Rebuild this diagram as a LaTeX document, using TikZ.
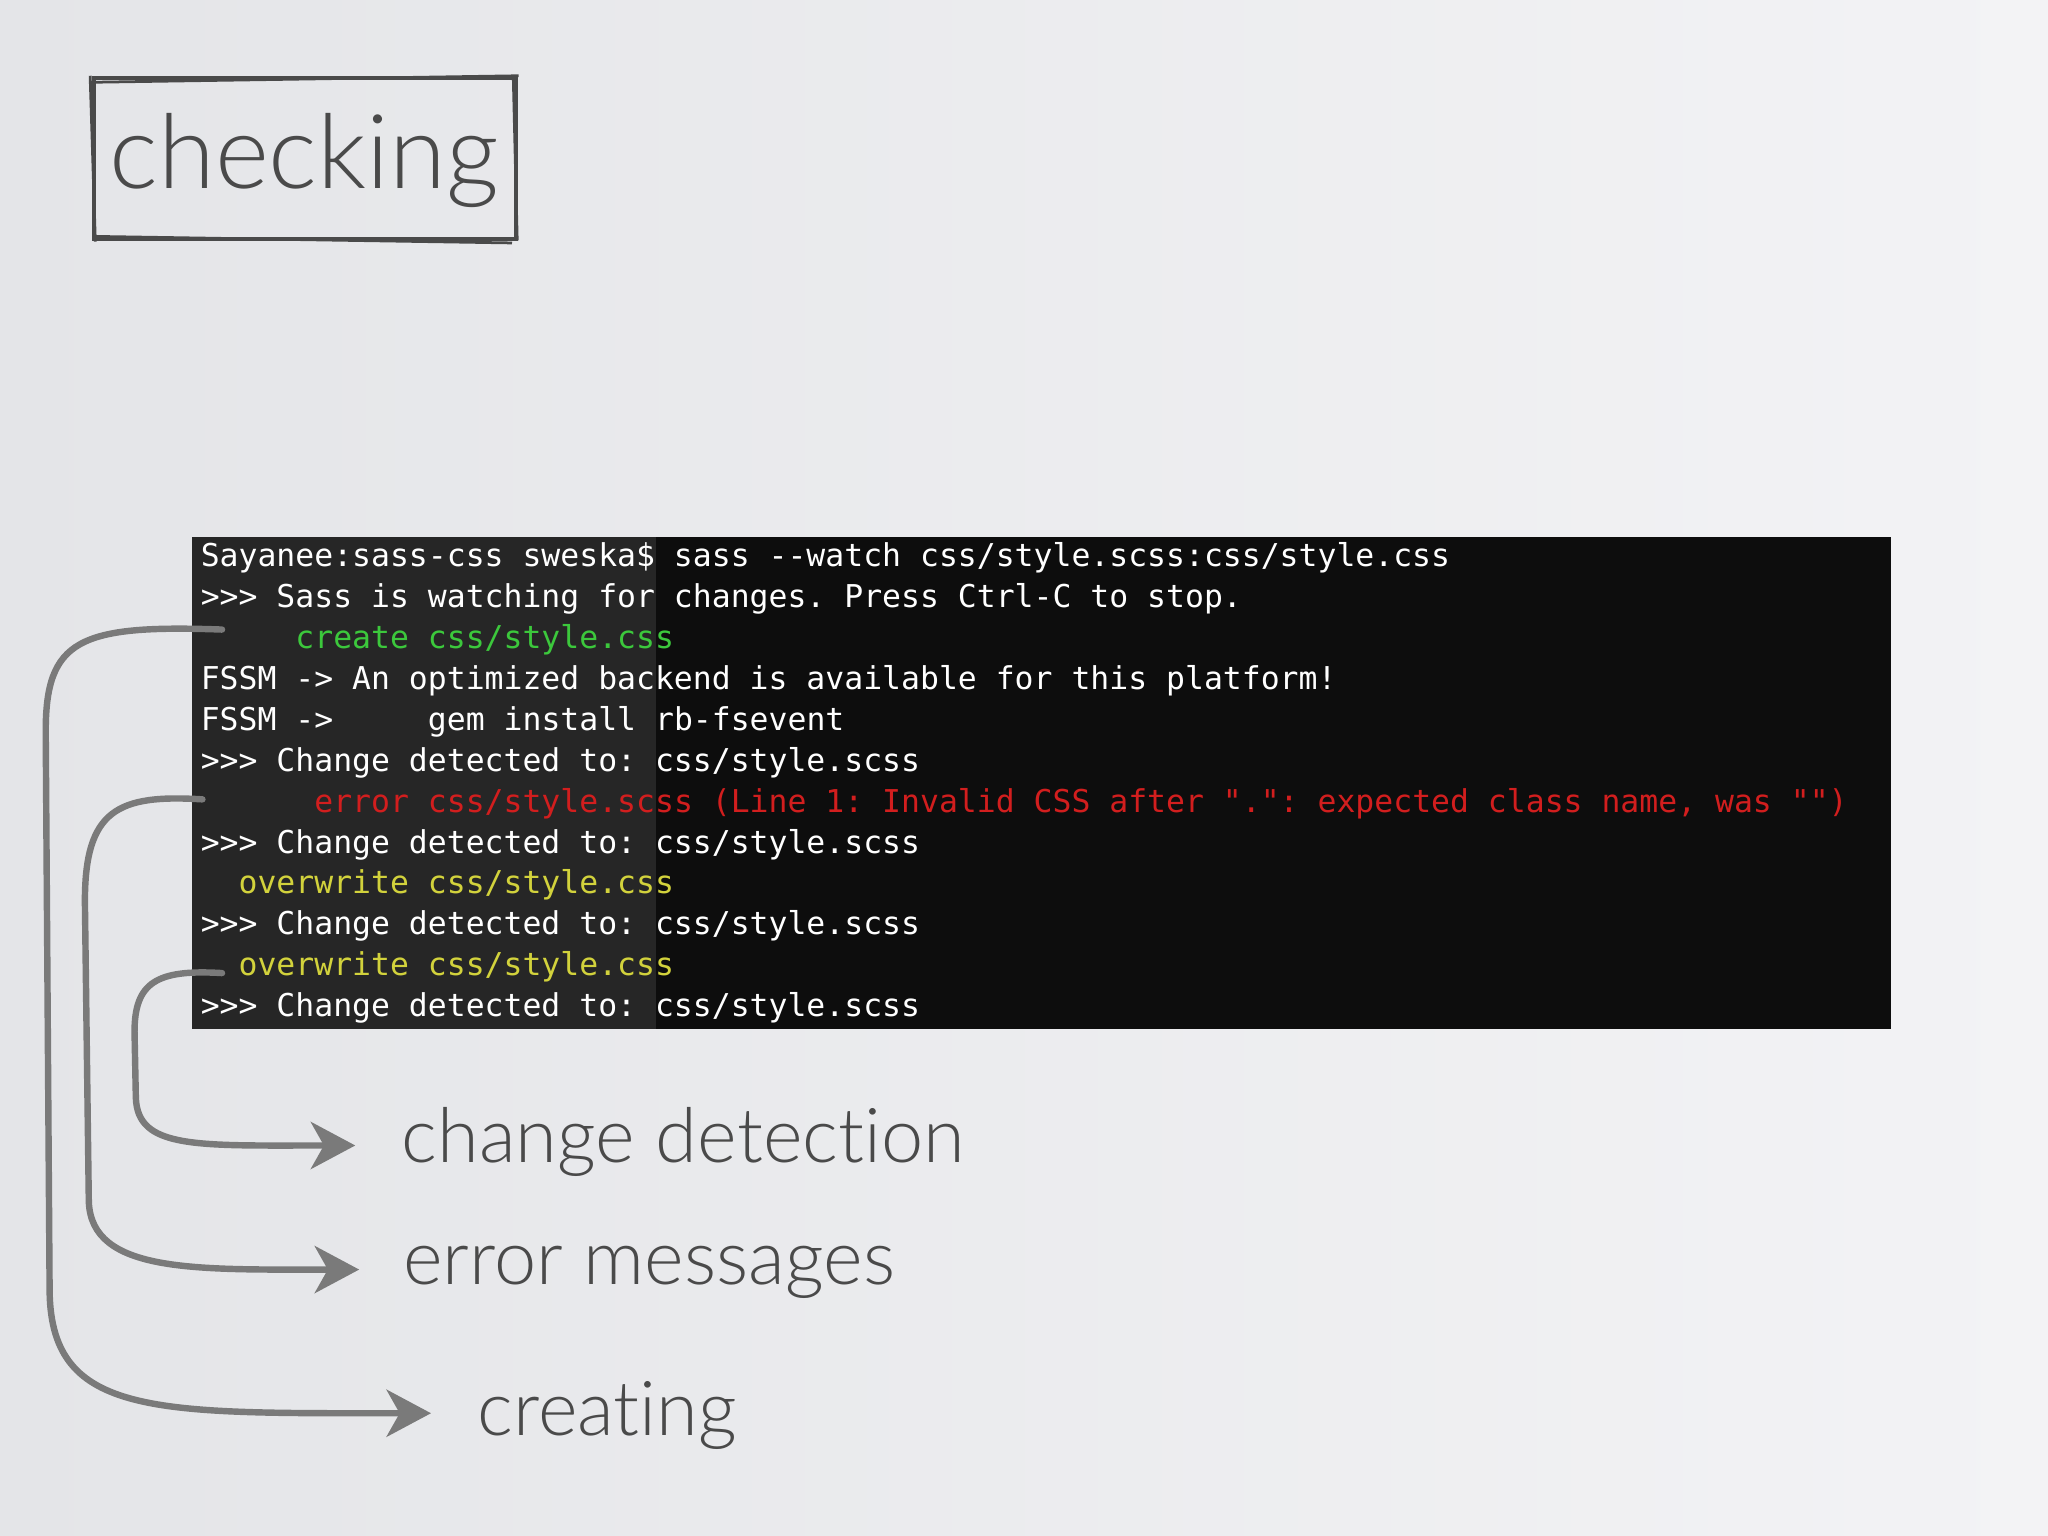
\documentclass[tikz,border=0pt]{standalone}
\usepackage{fontspec}
\setmainfont[RawFeature=-liga]{Lato Light}
\setmonofont{DejaVu Sans Mono}
\usetikzlibrary{arrows.meta}
\definecolor{bgA}{HTML}{E4E5E8}
\definecolor{bgB}{HTML}{F3F3F5}
\definecolor{txt}{HTML}{4A4A4A}
\definecolor{arr}{HTML}{7A7A7A}
\definecolor{tgreen}{HTML}{3CC83C}
\definecolor{tyellow}{HTML}{D2D23C}
\definecolor{tred}{HTML}{D21E1E}
\definecolor{tlgrey}{HTML}{262626}
\tikzset{
  term/.style={anchor=base west,font=\fontsize{6.85}{7}\selectfont\ttfamily,text=white,inner sep=0},
  lab/.style={anchor=west,font=\fontsize{16.5}{18}\selectfont,text=txt,inner sep=0},
  conn/.style={draw=arr,line width=1.4pt,line cap=round,-{Stealth[length=3.4mm,width=3.6mm,inset=1mm]}}
}
\begin{document}
\begin{tikzpicture}[x=0.1mm,y=-0.1mm]
\shade[left color=bgA,right color=bgB] (0,0) rectangle (1568,1176);
\useasboundingbox (0,0) rectangle (1568,1176);
% title
\draw[txt,line width=0.9pt] (72,60) rectangle (395,183);
\draw[txt,line width=0.6pt] (70,63) -- (397,58) (74,181) -- (392,186) (69,58) -- (73,185) (393,60) -- (396,184);
\node[font=\fontsize{22.5}{23}\selectfont,text=txt,anchor=center,inner sep=0] (title) at (233,123) {checking};
% terminal
\fill[black!95] (147,411) rectangle (1448,788);
\fill[tlgrey] (147,411) rectangle (502,788);
\def\L#1#2{\node[term] at (153,{434+31.3*#1}) {#2};}
\L{0}{Sayanee:sass-css sweska\$ sass --watch css/style.scss:css/style.css}
\L{1}{>>> Sass is watching for changes. Press Ctrl-C to stop.}
\L{2}{\textcolor{tgreen}{\ \ \ \ \ create css/style.css}}
\L{3}{FSSM -> An optimized backend is available for this platform!}
\L{4}{FSSM -> \ \ \ \ gem install rb-fsevent}
\L{5}{>>> Change detected to: css/style.scss}
\L{6}{\textcolor{tred}{\ \ \ \ \ \ error css/style.scss (Line 1: Invalid CSS after ".": expected class name, was "")}}
\L{7}{>>> Change detected to: css/style.scss}
\L{8}{\textcolor{tyellow}{\ \ overwrite css/style.css}}
\L{9}{>>> Change detected to: css/style.scss}
\L{10}{\textcolor{tyellow}{\ \ overwrite css/style.css}}
\L{11}{>>> Change detected to: css/style.scss}
% labels
\node[lab] (cd) at (307,874) {change detection};
\node[lab] (em) at (308,974) {error messages};
\node[lab] (cr) at (365,1084) {creating};
\coordinate (s1) at (170,482);
\coordinate (s2) at (155,612);
\coordinate (s3) at (170,745);
\coordinate (e1) at (330,1082);
\coordinate (e2) at (275,972);
\coordinate (e3) at (272,877);
\draw[conn] (s1) .. controls (60,478) and (35,490) .. (35,560) -- (38,990) .. controls (40,1085) and (120,1082) .. (e1);
\draw[conn] (s2) .. controls (90,608) and (65,620) .. (65,690) -- (68,920) .. controls (70,975) and (150,972) .. (e2);
\draw[conn] (s3) .. controls (120,742) and (103,752) .. (103,790) -- (104,840) .. controls (105,880) and (150,877) .. (e3);
\end{tikzpicture}
\end{document}
